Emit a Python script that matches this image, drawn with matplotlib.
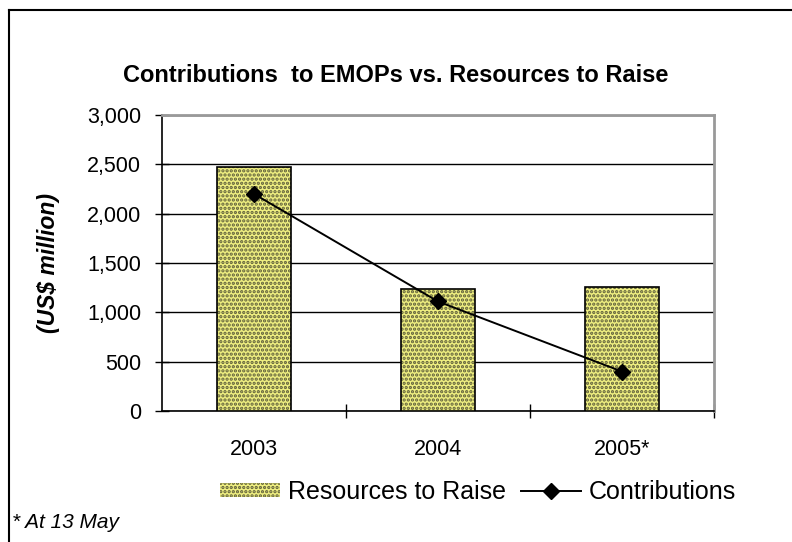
import matplotlib
matplotlib.use('Agg')
import matplotlib.pyplot as plt
from matplotlib.lines import Line2D
import numpy as np

# Chart data
years = ['2003', '2004', '2005*']
resources = [2470, 1240, 1260]
contributions = [2200, 1110, 400]
yticks = [0, 500, 1000, 1500, 2000, 2500, 3000]

plt.rcParams['font.family'] = ['Liberation Sans', 'DejaVu Sans']
plt.rcParams['hatch.linewidth'] = 1.6

fig = plt.figure(figsize=(7.92, 5.42), dpi=100)
ax = fig.add_axes([162/792, 1 - 411/542, (714-162)/792, (411-115)/542])

x = np.arange(len(years))

# Bars: dotted fill, then black outline
ax.bar(x, resources, width=0.4, color='#eeee80', edgecolor='#5e5e3a',
       hatch='....', linewidth=0, zorder=3)
ax.bar(x, resources, width=0.4, fill=False, edgecolor='black',
       linewidth=1.2, zorder=4)

ax.plot(x, contributions, color='black', marker='D', markersize=8,
        linewidth=1.4, zorder=5)

ax.set_xlim(-0.5, 2.5)
ax.set_ylim(0, 3000)
ax.set_yticks(yticks)
ax.set_yticklabels(['{:,}'.format(v) for v in yticks], fontsize=15.5)
ax.yaxis.grid(True, color='black', linewidth=1)
ax.set_axisbelow(True)

# Category labels without ticks, ticks at category boundaries
ax.set_xticks([0.5, 1.5, 2.5])
ax.set_xticklabels([])
ax.set_xticks(x, minor=True)
ax.set_xticklabels(years, minor=True, fontsize=15.5)
ax.tick_params(axis='x', which='minor', length=0, pad=20)
ax.tick_params(axis='x', which='major', direction='inout', length=10, width=1)
ax.tick_params(axis='y', direction='inout', length=10, width=1, pad=10)

for side in ['top', 'right']:
    ax.spines[side].set_color('#999999')
    ax.spines[side].set_linewidth(2)
for side in ['left', 'bottom']:
    ax.spines[side].set_color('black')
    ax.spines[side].set_linewidth(1.2)

ax.set_ylabel('(US$ million)', fontsize=16.5, fontweight='bold', style='italic')
ax.yaxis.set_label_coords(-0.185, 0.5)

fig.text(0.5, 1 - 75/542, 'Contributions  to EMOPs vs. Resources to Raise',
         ha='center', va='center', fontsize=17, fontweight='bold')

# Legend
handles = [
    plt.Rectangle((0, 0), 1, 1, facecolor='#eeee80', edgecolor='#5e5e3a',
                  hatch='....', linewidth=0),
    Line2D([0], [0], color='black', marker='D', markersize=8, linewidth=1.4),
]
fig.legend(handles, ['Resources to Raise', 'Contributions'], loc='center',
           bbox_to_anchor=(478/792, 1 - 492/542), ncol=2, frameon=False,
           fontsize=18, handlelength=2.4, handleheight=0.5,
           handletextpad=0.3, columnspacing=0.6)

fig.text(12/792, 1 - 522/542, '* At 13 May', fontsize=15, style='italic',
         ha='left', va='center')

# Chart area border (left and top visible)
fig.add_artist(Line2D([9/792, 9/792], [0, 1 - 10/542], color='black',
                      linewidth=1.5, transform=fig.transFigure))
fig.add_artist(Line2D([9/792, 1], [1 - 10/542, 1 - 10/542], color='black',
                      linewidth=1.5, transform=fig.transFigure))

fig.savefig('out.png', dpi=100)
